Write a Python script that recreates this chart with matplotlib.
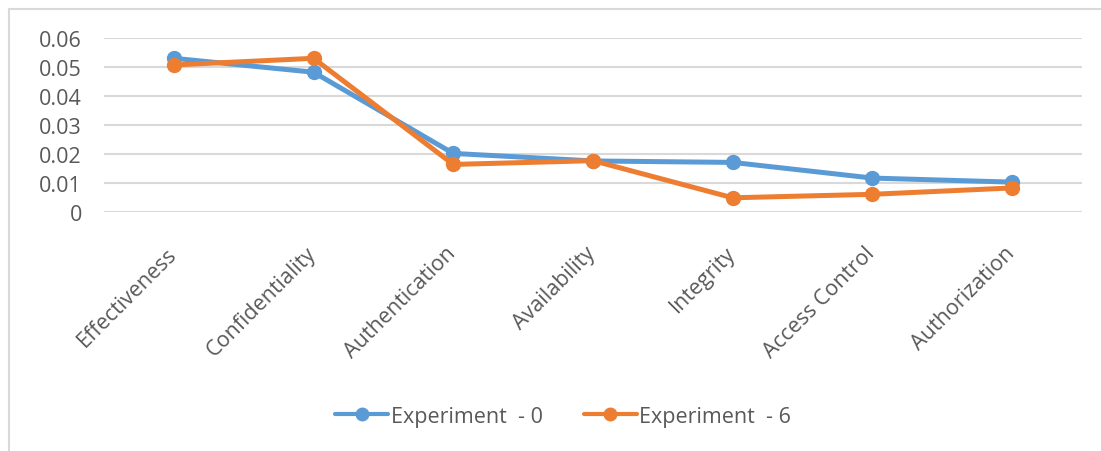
import matplotlib
matplotlib.use("Agg")
import matplotlib.pyplot as plt
import matplotlib.transforms as mtransforms
from matplotlib.patches import Rectangle

# categories and series values
categories = ["Effectiveness", "Confidentiality", "Authentication", "Availability",
              "Integrity", "Access Control", "Authorization"]
exp0 = [0.0530, 0.0482, 0.0202, 0.0176, 0.0171, 0.0117, 0.0103]
exp6 = [0.0507, 0.0530, 0.0164, 0.0177, 0.0049, 0.0061, 0.0083]
yticks = [0, 0.01, 0.02, 0.03, 0.04, 0.05, 0.06]
ytick_labels = ["0", "0.01", "0.02", "0.03", "0.04", "0.05", "0.06"]

blue = "#5B9BD5"
orange = "#ED7D31"
text_col = "#595959"
grid_col = "#D9D9D9"

plt.rcParams["font.family"] = ["Open Sans", "DejaVu Sans"]

W, H = 1101, 452
fig = plt.figure(figsize=(W / 100, H / 100), dpi=100)

# chart border (runs off the right and bottom edges)
fig.patches.append(Rectangle((9 / W, -0.1), 1.2, 1 - 10 / H + 0.1,
                             transform=fig.transFigure, fill=False,
                             edgecolor=grid_col, linewidth=1.5))

ax = fig.add_axes([104 / W, 1 - 213 / H, (1082 - 104) / W, (213 - 39) / H])
x = list(range(len(categories)))

ax.plot(x, exp0, color=blue, lw=3.6, marker="o", ms=10, label="Experiment  - 0",
        solid_joinstyle="round", solid_capstyle="round", zorder=3)
ax.plot(x, exp6, color=orange, lw=3.6, marker="o", ms=10, label="Experiment  - 6",
        solid_joinstyle="round", solid_capstyle="round", zorder=4)

ax.set_xlim(-0.5, len(categories) - 0.5)
ax.set_ylim(0, 0.06)
ax.set_yticks(yticks)
ax.set_yticklabels(ytick_labels)
ax.set_xticks(x)
ax.set_xticklabels(categories, rotation=45, ha="right", va="top",
                   rotation_mode="anchor")
ax.tick_params(axis="both", length=0, labelsize=15.5, colors=text_col)
ax.tick_params(axis="x", pad=22)
ax.tick_params(axis="y", pad=16)

# nudge the slanted category labels a little to the left
shift = mtransforms.ScaledTranslation(-8 / 100, 0, fig.dpi_scale_trans)
for lab in ax.get_xticklabels():
    lab.set_transform(lab.get_transform() + shift)

ax.grid(axis="y", color=grid_col, lw=1.5)
ax.set_axisbelow(True)
for s in ax.spines.values():
    s.set_visible(False)

leg = fig.legend(loc="center", bbox_to_anchor=(563 / W, 1 - 417 / H), ncol=2,
                 frameon=False, fontsize=15.5, handlelength=2.5, columnspacing=1.9,
                 handletextpad=0.1)
for h in leg.legend_handles:
    h.set_linewidth(3)
    h.set_markersize(9)
for t in leg.get_texts():
    t.set_color(text_col)

fig.savefig("out.png", dpi=100)
